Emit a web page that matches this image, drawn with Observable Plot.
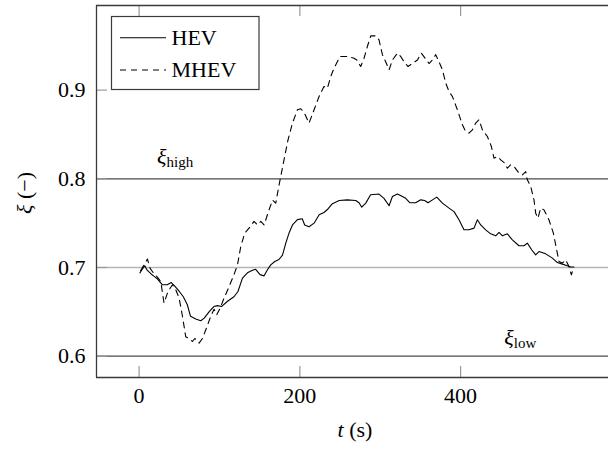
<!DOCTYPE html>
<html><head><meta charset="utf-8">
<script src="https://cdn.jsdelivr.net/npm/d3@7"></script>
<script src="https://cdn.jsdelivr.net/npm/@observablehq/plot@0.6"></script>
<style>body{margin:0;background:#fff;overflow:hidden}</style>
</head><body><div id="chart"></div>
<script>
// HEV series
const hevT = [1,4,7,10,14.6,18.7,23,29,35,40,44.4,50,55,60,64,70.5,76.7,81,87,93,97.5,102.5,110,118,123,128.6,134.8,141,145,150.5,155.5,159.7,163.8,168.8,174,178.4,182.5,186.6,190.8,197,203,206,211.4,217.7,224,230,235,240.5,249,259,269.5,273.6,277,282,288,298.5,304.7,311,315.2,321.4,327.6,331.7,337,344,350.4,355.3,359.5,365,370.3,377.4,385.6,391.8,398,404.2,410.4,416.7,420.9,425,431.2,437.4,443.7,447.8,452,458.2,464.4,472.6,478.9,483,488.4,493.4,497.5,505.8,514.2,520.4,526.6,532.8,537,541];
const hevXi = [0.694,0.698,0.702,0.697,0.693,0.690,0.687,0.6805,0.6805,0.683,0.679,0.673,0.667,0.658,0.645,0.642,0.640,0.643,0.650,0.656,0.657,0.656,0.662,0.667,0.673,0.688,0.694,0.697,0.698,0.692,0.6906,0.6974,0.703,0.7068,0.709,0.714,0.7275,0.739,0.748,0.754,0.755,0.748,0.746,0.750,0.7594,0.762,0.766,0.772,0.7755,0.7763,0.7755,0.773,0.768,0.7726,0.782,0.7828,0.778,0.7696,0.780,0.7828,0.780,0.778,0.773,0.773,0.7763,0.7755,0.773,0.7763,0.7794,0.7726,0.767,0.763,0.7538,0.7425,0.7425,0.7444,0.7538,0.748,0.7425,0.738,0.7357,0.7395,0.7357,0.738,0.7312,0.7245,0.7245,0.7275,0.720,0.7143,0.718,0.7154,0.7106,0.7056,0.7038,0.702,0.7005,0.7005];
// MHEV series
const mhevT = [2,6.2,10.4,13.7,18,23,27,31,36,41.5,45.6,49.8,54,58,63.4,66.4,69.3,74.6,78.8,83,89.2,93.3,96.6,100.7,105.7,112,118,122.4,126.5,131.5,136.8,143,147.3,151.4,155.5,161.7,166,170,173,176.2,180.3,185.3,190.8,197,201,205.2,211.4,217.7,223.9,230,234.3,238.4,242.5,250,259.2,267.4,270.8,275.7,279.9,284,288.2,294.4,298.5,302.7,306.8,311,315.2,321.4,325.5,329.6,334.6,340,346.3,351.2,356.6,360.7,364.9,369,373.1,377.4,381.5,385.6,389.8,396,402.2,406.3,410.4,414.7,418.8,422.9,427.1,433.3,438.3,441.5,445.8,449.9,454.9,458.2,462.3,466.4,472.6,476.9,481,483,487.2,491.3,493.4,496.3,499.6,503.7,509.9,515.4,519.5,522.4,526.6,530.7,534.8,537.8,540.3];
const mhevXi = [0.6966,0.703,0.7095,0.699,0.6937,0.689,0.684,0.660,0.673,0.6805,0.675,0.6655,0.6448,0.622,0.619,0.6166,0.620,0.6148,0.620,0.6298,0.645,0.653,0.6467,0.654,0.6655,0.6786,0.6918,0.703,0.7237,0.7388,0.7444,0.752,0.748,0.752,0.748,0.765,0.776,0.7726,0.7876,0.8026,0.8214,0.844,0.8628,0.8778,0.8789,0.8751,0.8628,0.8778,0.8928,0.904,0.9022,0.9153,0.9247,0.9379,0.9379,0.936,0.934,0.9266,0.936,0.9492,0.9612,0.9612,0.9567,0.940,0.932,0.9229,0.934,0.9416,0.9379,0.932,0.9266,0.930,0.934,0.9416,0.935,0.930,0.934,0.940,0.932,0.9229,0.908,0.8984,0.8928,0.8778,0.8609,0.8533,0.8515,0.8552,0.8628,0.8666,0.8552,0.8477,0.8364,0.8233,0.8252,0.8214,0.8177,0.812,0.8158,0.8139,0.8064,0.8045,0.8082,0.7989,0.7914,0.7763,0.7613,0.7557,0.767,0.765,0.7538,0.7388,0.720,0.7068,0.705,0.7087,0.7011,0.6918,0.6993];

const xTicks = [0, 200, 400];
const yTicks = [0.6, 0.7, 0.8, 0.9];
const xTickLabels = ["0", "200", "400"];
const yTickLabels = ["0.6", "0.7", "0.8", "0.9"];
const thresholdsDark = [0.6, 0.8];
const thresholdLight = [0.7];
const seriesNames = ["HEV", "MHEV"];
const xDomain = [-53, 584];
const yDomain = [0.576, 0.9954];

const hev = hevT.map((t, i) => ({t, xi: hevXi[i]}));
const mhev = mhevT.map((t, i) => ({t, xi: mhevXi[i]}));

const W = 608, H = 450, mL = 96, mR = 0, mT = 5, mB = 73;
const fw = W - mL - mR, fh = H - mT - mB;
const tickCol = "#9a9a9a", frameCol = "#3a3a3a";
const FONT = "Liberation Serif";
const FS = 22;

const plot = Plot.plot({
  width: W, height: H,
  marginLeft: mL, marginRight: mR, marginTop: mT, marginBottom: mB,
  style: {fontFamily: FONT, fontSize: FS + "px", background: "#fff", color: "#000"},
  x: {domain: xDomain},
  y: {domain: yDomain},
  marks: [
    Plot.ruleY(thresholdLight, {y: d => d, stroke: "#b5b5b5", strokeWidth: 1.6}),
    Plot.ruleY(thresholdsDark, {y: d => d, stroke: "#4a4a4a", strokeWidth: 1.3}),
    Plot.ruleX(xTicks, {x: d => d, insetTop: fh - 11, stroke: tickCol, strokeWidth: 1.2}),
    Plot.ruleX(xTicks, {x: d => d, insetBottom: fh - 11, stroke: tickCol, strokeWidth: 1.2}),
    Plot.ruleY(yTicks, {y: d => d, insetRight: fw - 11, stroke: tickCol, strokeWidth: 1.2}),
    Plot.line(hev, {x: "t", y: "xi", stroke: "#000", strokeWidth: 1.1, clip: true}),
    Plot.line(mhev, {x: "t", y: "xi", stroke: "#000", strokeWidth: 1.1, strokeDasharray: "6,5", clip: true}),
    Plot.ruleX([xDomain[0]], {x: d => d, stroke: frameCol, strokeWidth: 1.3}),
    Plot.ruleY(yDomain, {y: d => d, stroke: frameCol, strokeWidth: 1.3}),
    Plot.axisX(xTicks, {tickSize: 0, tickPadding: 10, label: null, fontSize: FS,
      tickFormat: (d) => xTickLabels[xTicks.indexOf(d)]}),
    Plot.axisY(yTicks, {tickSize: 0, tickPadding: 11, label: null, fontSize: FS,
      tickFormat: (d) => yTickLabels[yTicks.indexOf(d)]})
  ]
});

const svg = d3.select(plot);
const sx = plot.scale("x"), sy = plot.scale("y");

// threshold labels
function xiLabel(tx, yv, sub, off) {
  const t = svg.append("text").attr("x", sx.apply(tx)).attr("y", sy.apply(yv) - off)
    .attr("text-anchor", "start").attr("font-family", FONT).attr("fill", "#000");
  t.append("tspan").attr("font-style", "italic").attr("font-size", FS).text("ξ");
  t.append("tspan").attr("font-size", 15).attr("dy", 3).text(sub);
}
xiLabel(23, 0.8, "high", 14);
xiLabel(455, 0.6, "low", 11);

// axis titles
const xt = svg.append("text").attr("x", 355).attr("y", 437).attr("text-anchor", "middle")
  .attr("font-family", FONT).attr("font-size", FS).attr("fill", "#000");
xt.append("tspan").attr("font-style", "italic").text("t");
xt.append("tspan").text(" (s)");
const yt = svg.append("text").attr("transform", "translate(32,193) rotate(-90)").attr("text-anchor", "middle")
  .attr("font-family", FONT).attr("font-size", FS).attr("fill", "#000");
yt.append("tspan").attr("font-style", "italic").text("ξ");
yt.append("tspan").text(" (−)");

// legend
const lg = svg.append("g");
lg.append("rect").attr("x", 111.5).attr("y", 16.5).attr("width", 147.5).attr("height", 73)
  .attr("fill", "#fff").attr("stroke", frameCol).attr("stroke-width", 1.2);
seriesNames.forEach((name, i) => {
  const yy = 37.7 + i * 32.3;
  lg.append("line").attr("x1", 120).attr("x2", 166).attr("y1", yy).attr("y2", yy)
    .attr("stroke", "#000").attr("stroke-width", 1.1)
    .attr("stroke-dasharray", i === 1 ? "6,5" : null);
  lg.append("text").attr("x", 171.5).attr("y", yy + 7).attr("text-anchor", "start")
    .attr("font-family", FONT).attr("font-size", FS).attr("fill", "#000").text(name);
});

document.getElementById("chart").appendChild(plot);
</script>
</body></html>
